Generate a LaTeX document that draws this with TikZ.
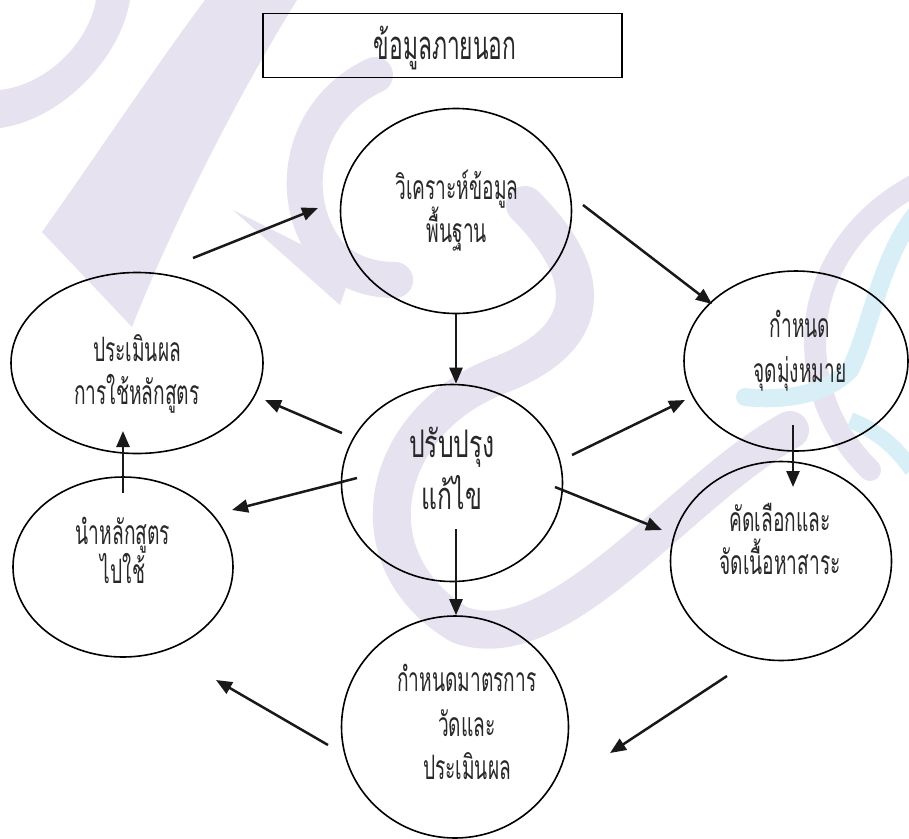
\documentclass[tikz,border=0pt]{standalone}
\usepackage{fontspec}
\newfontfamily\thai[Script=Thai,FakeStretch=0.57]{Loma}
\newfontfamily\thaiwide[Script=Thai,FakeStretch=0.65]{Loma}
\usetikzlibrary{arrows.meta,shapes.geometric}
\definecolor{lav}{RGB}{231,226,240}
\definecolor{cya}{RGB}{216,239,247}
\definecolor{ink}{RGB}{40,40,40}
\begin{document}
\begin{tikzpicture}[x=1pt,y=-1pt,
  ell/.style={draw, ellipse, line width=1.6pt, inner sep=0pt},
  lbl/.style={font=\thai\fontsize{33.6}{38}\selectfont, text=ink, anchor=base, inner sep=0pt},
  top/.style={font=\thai\fontsize{40}{44}\selectfont, text=ink, anchor=base, inner sep=0pt},
  big/.style={font=\thaiwide\fontsize{38}{42}\selectfont, text=ink, anchor=base, inner sep=0pt},
  arr/.style={line width=2.5pt, color=black!90, -{Triangle[length=16pt,width=13pt]}},
  wm/.style={line width=#1, lav, line cap=round},
]
\path[use as bounding box, fill=white] (0,0) rectangle (909,838);
% watermark
\fill[lav] (0,90) .. controls (45,85) and (88,45) .. (96,0) -- (130,0) .. controls (120,60) and (60,120) .. (0,128) -- cycle;
\fill[lav] (205,0) -- (297,0) .. controls (235,100) and (170,230) .. (132,327) -- (42,232) .. controls (100,150) and (160,60) .. (205,0) -- cycle;
\draw[wm=36pt] (375,75) .. controls (300,110) and (285,200) .. (330,255) .. controls (350,275) and (375,280) .. (395,280);
\fill[lav] (233,210) -- (352,270) -- (340,305) -- cycle;
\draw[wm=38pt] (525,205) .. controls (600,280) and (590,340) .. (500,375) .. controls (380,420) and (350,560) .. (460,625) .. controls (560,660) and (680,490) .. (790,430);
\draw[wm=22pt] (915,185) .. controls (850,220) and (815,280) .. (815,340) .. controls (815,400) and (840,440) .. (870,470);
\draw[line width=18pt, cya, line cap=round] (915,215) .. controls (880,260) and (870,330) .. (850,370) .. controls (820,400) and (770,400) .. (745,397);
\draw[line width=16pt, cya] (850,420) .. controls (875,430) and (895,445) .. (912,470);
% box
\node[draw, line width=1.6pt, minimum width=359pt, minimum height=64pt, inner sep=0pt] (ext) at (442.5,45.5) {};
\node[top] (extt) at (445,59) {ข้อมูลภายนอก};
% ellipses
\node[ell, minimum width=231pt, minimum height=205pt] (A) at (456,211) {};
\node[ell, minimum width=252pt, minimum height=181pt] (B) at (137,363) {};
\node[ell, minimum width=220pt, minimum height=180pt] (C) at (123,567) {};
\node[ell, minimum width=221pt, minimum height=197pt] (D) at (452,483) {};
\node[ell, minimum width=224pt, minimum height=180pt] (E) at (796,361) {};
\node[ell, minimum width=221pt, minimum height=199pt] (F) at (781,561) {};
\node[ell, minimum width=227pt, minimum height=222pt] (G) at (455,727) {};
% texts
\node[lbl] (A1) at (457,199) {วิเคราะห์ข้อมูล};
\node[lbl] (A2) at (457,242) {พื้นฐาน};
\node[lbl] (B1) at (137,361) {ประเมินผล};
\node[lbl] (B2) at (137,404) {การใช้หลักสูตร};
\node[lbl] (C1) at (123,544) {นำหลักสูตร};
\node[lbl] (C2) at (123,583) {ไปใช้};
\node[big] (D1) at (452,457) {ปรับปรุง};
\node[big] (D2) at (452,509) {แก้ไข};
\node[lbl] (E1) at (800,337) {กำหนด};
\node[lbl] (E2) at (800,382) {จุดมุ่งหมาย};
\node[lbl] (F1) at (780,531) {คัดเลือกและ};
\node[lbl] (F2) at (780,574) {จัดเนื้อหาสาระ};
\node[lbl] (G1) at (467,691) {กำหนดมาตรการ};
\node[lbl] (G2) at (467,736) {วัดและ};
\node[lbl] (G3) at (467,779) {ประเมินผล};
% free ends
\coordinate (bA0) at (193,258); \coordinate (bA1) at (318,208);
\coordinate (aE0) at (583,205); \coordinate (aE1) at (712,304);
\coordinate (dB0) at (342,433); \coordinate (dB1) at (265,400);
\coordinate (dC0) at (357,478); \coordinate (dC1) at (232,510);
\coordinate (cB0) at (123,493); \coordinate (cB1) at (123,431);
\coordinate (dE0) at (572,455); \coordinate (dE1) at (685,400);
\coordinate (dF0) at (555,487); \coordinate (dF1) at (662,530);
\coordinate (eF0) at (793,425); \coordinate (eF1) at (793,487);
\coordinate (dG0) at (456,529);
\coordinate (fG0) at (727,676); \coordinate (fG1) at (610,753);
\coordinate (gC0) at (328,745); \coordinate (gC1) at (216,680);
% arrows
\draw[arr] (bA0) -- (bA1);
\draw[arr] (aE0) -- (aE1);
\draw[arr] (A.south) -- (A.south |- D.north);
\draw[arr] (dB0) -- (dB1);
\draw[arr] (dC0) -- (dC1);
\draw[arr] (cB0) -- (cB1);
\draw[arr] (dE0) -- (dE1);
\draw[arr] (dF0) -- (dF1);
\draw[arr] (eF0) -- (eF1);
\draw[arr] (dG0) -- (dG0 |- G.north);
\draw[arr] (fG0) -- (fG1);
\draw[arr] (gC0) -- (gC1);
\end{tikzpicture}
\end{document}
